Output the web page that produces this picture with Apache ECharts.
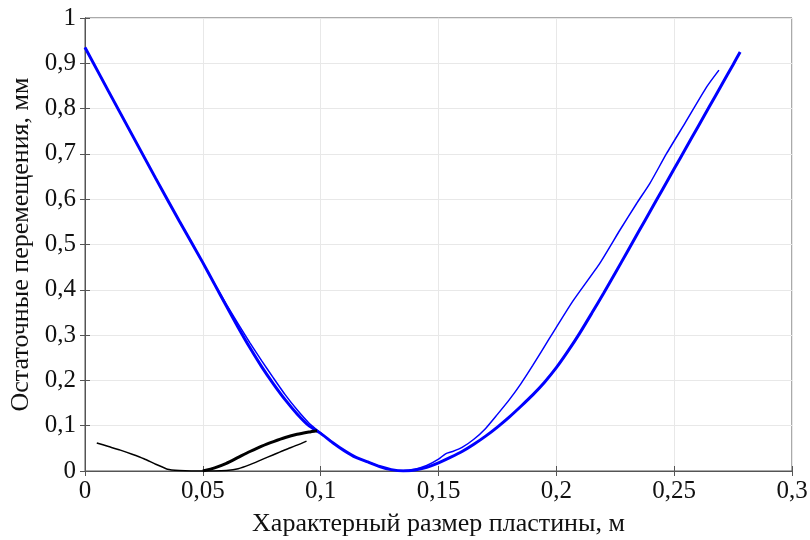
<!DOCTYPE html>
<html>
<head>
<meta charset="utf-8">
<script src="https://cdn.jsdelivr.net/npm/echarts@6/dist/echarts.min.js"></script>
<style>html,body{margin:0;padding:0;background:#fff}#c{width:810px;height:540px}</style>
</head>
<body>
<div id="c"></div>
<script>
var xTitle = 'Характерный размер пластины, м';
var yTitle = 'Остаточные перемещения, мм';

var blueThickX = [0,0.01,0.02,0.03,0.04,0.05,0.055,0.06,0.065,0.07,0.075,0.08,0.085,0.09,0.095,0.1,0.105,0.11,0.115,0.12,0.125,0.13,0.135,0.14,0.145,0.15,0.155,0.16,0.165,0.17,0.175,0.18,0.185,0.19,0.195,0.2,0.205,0.21,0.215,0.22,0.225,0.23,0.235,0.24,0.245,0.25,0.255,0.26,0.265,0.27,0.275,0.278];
var blueThickY = [0.935,0.838,0.742,0.646,0.552,0.46,0.412,0.364,0.317,0.272,0.23,0.192,0.157,0.126,0.1,0.083,0.063,0.045,0.03,0.02,0.01,0.003,0,0.002,0.008,0.018,0.03,0.043,0.059,0.077,0.097,0.119,0.143,0.168,0.196,0.228,0.265,0.305,0.348,0.392,0.437,0.483,0.529,0.575,0.621,0.667,0.713,0.759,0.805,0.851,0.897,0.925];

var blueThinX = [0,0.01,0.02,0.03,0.04,0.05,0.055,0.06,0.065,0.07,0.075,0.08,0.085,0.09,0.095,0.1,0.105,0.11,0.115,0.12,0.125,0.13,0.135,0.14,0.145,0.15,0.153,0.156,0.16,0.165,0.17,0.175,0.18,0.185,0.19,0.197,0.207,0.2185,0.227,0.234,0.2397,0.2468,0.2546,0.2638,0.269];
var blueThinY = [0.935,0.838,0.742,0.646,0.552,0.46,0.413,0.368,0.325,0.283,0.243,0.205,0.168,0.135,0.106,0.084,0.063,0.045,0.03,0.02,0.01,0.003,0.001,0.004,0.012,0.026,0.038,0.043,0.052,0.07,0.094,0.125,0.157,0.193,0.233,0.292,0.375,0.459,0.532,0.59,0.635,0.701,0.768,0.848,0.885];

var blackThickX = [0.05,0.055,0.06,0.065,0.07,0.075,0.08,0.085,0.09,0.095,0.0985];
var blackThickY = [0,0.007,0.017,0.03,0.043,0.055,0.065,0.074,0.081,0.086,0.089];

var blackThinX = [0.005,0.01,0.015,0.02,0.025,0.03,0.035,0.04,0.045,0.05,0.055,0.06,0.065,0.07,0.075,0.08,0.085,0.09,0.094];
var blackThinY = [0.062,0.054,0.046,0.037,0.027,0.015,0.004,0.001,0,0,0,0.001,0.005,0.014,0.025,0.036,0.047,0.057,0.066];

function pairs(xs, ys){ return xs.map(function(x,i){ return [x, ys[i]]; }); }
function comma(v){ return String(+v.toFixed(2)).replace('.', ','); }

var font = "'Liberation Serif','Times New Roman',serif";
var chart = echarts.init(document.getElementById('c'));
var tickStyle = {show:true, inside:true, length:5, lineStyle:{color:'#555'}};
chart.setOption({
  animation:false,
  backgroundColor:'#fff',
  grid:{left:85,right:18,top:18,bottom:69,containLabel:false,outerBoundsMode:'none',show:true,borderColor:'#555',borderWidth:1,backgroundColor:'transparent'},
  xAxis:[{
    type:'value',min:0,max:0.3,interval:0.05,
    name:xTitle,nameLocation:'middle',nameGap:40,
    nameTextStyle:{fontFamily:font,fontSize:26,color:'#111'},
    axisLine:{show:true,onZero:false,lineStyle:{color:'#555'}},
    axisTick:tickStyle,
    axisLabel:{fontFamily:font,fontSize:25,color:'#111',margin:8,formatter:comma},
    splitLine:{show:true,lineStyle:{color:'#e8e8e8',width:1}}
  },{
    type:'value',min:0,max:0.3,interval:0.05,position:'top',
    axisLine:{show:true,lineStyle:{color:'#555'}},axisTick:tickStyle,axisLabel:{show:false},splitLine:{show:false}
  }],
  yAxis:[{
    type:'value',min:0,max:1,interval:0.1,
    name:yTitle,nameLocation:'middle',nameGap:51,nameRotate:90,
    nameTextStyle:{fontFamily:font,fontSize:26,color:'#111'},
    axisLine:{show:true,onZero:false,lineStyle:{color:'#555'}},
    axisTick:tickStyle,
    axisLabel:{fontFamily:font,fontSize:25,color:'#111',margin:9,formatter:comma},
    splitLine:{show:true,lineStyle:{color:'#e8e8e8',width:1}}
  },{
    type:'value',min:0,max:1,interval:0.1,position:'right',
    axisLine:{show:true,lineStyle:{color:'#555'}},axisTick:tickStyle,axisLabel:{show:false},splitLine:{show:false}
  }],
  series:[
    {type:'line',data:pairs(blueThinX,blueThinY),showSymbol:false,smooth:0.2,lineStyle:{color:'#0000ff',width:1.5},z:3},
    {type:'line',data:pairs(blueThickX,blueThickY),showSymbol:false,smooth:0.2,lineStyle:{color:'#0000ff',width:3},z:4},
    {type:'line',data:pairs(blackThinX,blackThinY),showSymbol:false,smooth:0.2,lineStyle:{color:'#000',width:1.5},z:3},
    {type:'line',data:pairs(blackThickX,blackThickY),showSymbol:false,smooth:0.2,lineStyle:{color:'#000',width:3},z:4}
  ]
});
</script>
</body>
</html>
